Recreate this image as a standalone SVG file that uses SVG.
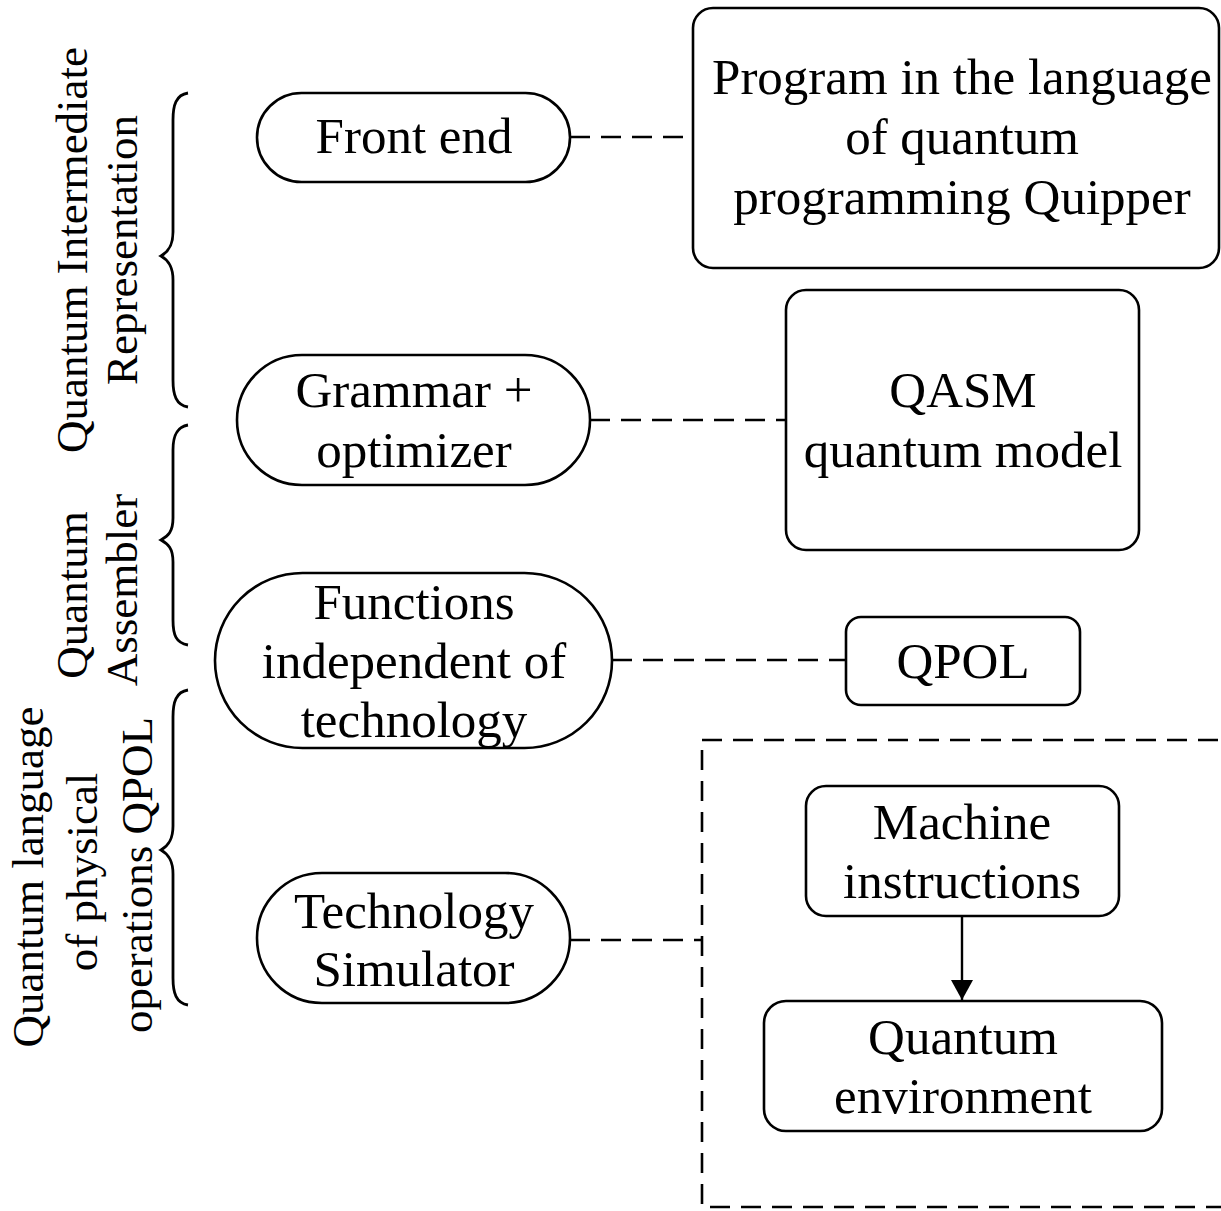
<svg xmlns="http://www.w3.org/2000/svg" width="1221" height="1211" viewBox="0 0 1221 1211">
<style>
.n{fill:#fff;stroke:#000;stroke-width:2.6}
.t{font-family:"Liberation Serif","Times New Roman",serif;font-size:51px;text-anchor:middle;fill:#000}
.r{font-family:"Liberation Serif","Times New Roman",serif;font-size:45px;text-anchor:middle;fill:#000}
.d{fill:none;stroke:#000;stroke-width:2.6;stroke-dasharray:20 11}
.b{fill:none;stroke:#000;stroke-width:2.8}
</style>
<defs>
<marker id="ah" markerWidth="20" markerHeight="22" refX="20" refY="11" orient="auto" markerUnits="userSpaceOnUse">
<path d="M0,0 L20,11 L0,22 Z" fill="#000"/>
</marker>
</defs>
<rect width="1221" height="1211" fill="#fff"/>
<g id="labels">
<g id="label-qir">
<text class="r" transform="translate(87,250) rotate(-90)">Quantum Intermediate</text>
<text class="r" transform="translate(137,250) rotate(-90)">Representation</text>
<path class="b" d="M188,93 C176,95 173,105 173,120 L173,232 C173,246 168,252 161,256 C168,260 173,266 173,280 L173,380 C173,395 176,405 188,407"/>
</g>
<g id="label-qa">
<text class="r" transform="translate(87,595) rotate(-90)">Quantum</text>
<text class="r" transform="translate(137,590) rotate(-90)">Assembler</text>
<path class="b" d="M188,425 C176,427 173,437 173,450 L173,518 C173,532 168,536 161,540 C168,544 173,548 173,562 L173,620 C173,635 176,643 188,645"/>
</g>
<g id="label-qpol">
<text class="r" transform="translate(43,877) rotate(-90)">Quantum language</text>
<text class="r" transform="translate(97,872) rotate(-90)">of physical</text>
<text class="r" transform="translate(152,875) rotate(-90)">operations QPOL</text>
<path class="b" d="M188,690 C176,692 173,702 173,717 L173,826 C173,840 168,846 161,850 C168,854 173,860 173,874 L173,978 C173,993 176,1003 188,1005"/>
</g>
</g>
<g id="connectors">
<line class="d" x1="570" y1="137" x2="693" y2="137"/>
<line class="d" x1="590" y1="420" x2="786" y2="420"/>
<line class="d" x1="612" y1="660" x2="846" y2="660"/>
<line class="d" x1="570" y1="940" x2="702" y2="940"/>
<line x1="962" y1="916" x2="962" y2="1000" stroke="#000" stroke-width="2.4" marker-end="url(#ah)"/>
</g>
<g id="group-box">
<rect class="d" x="702" y="740" width="540" height="467"/>
</g>
<g id="front-end">
<rect class="n" x="257" y="93" width="313" height="89" rx="44.5"/>
<text class="t" x="414" y="153">Front end</text>
</g>
<g id="program">
<rect class="n" x="693" y="8" width="526" height="260" rx="20"/>
<text class="t" x="962" y="94">Program in the language</text>
<text class="t" x="962" y="154">of quantum</text>
<text class="t" x="962" y="214">programming Quipper</text>
</g>
<g id="grammar">
<rect class="n" x="237" y="355" width="353" height="130" rx="65"/>
<text class="t" x="414" y="407">Grammar +</text>
<text class="t" x="414" y="467">optimizer</text>
</g>
<g id="qasm">
<rect class="n" x="786" y="290" width="353" height="260" rx="20"/>
<text class="t" x="963" y="407">QASM</text>
<text class="t" x="963" y="467">quantum model</text>
</g>
<g id="functions">
<rect class="n" x="215" y="573" width="397" height="175" rx="87.5"/>
<text class="t" x="414" y="619">Functions</text>
<text class="t" x="414" y="678">independent of</text>
<text class="t" x="414" y="737">technology</text>
</g>
<g id="qpol">
<rect class="n" x="846" y="617" width="234" height="88" rx="15"/>
<text class="t" x="963" y="678">QPOL</text>
</g>
<g id="simulator">
<rect class="n" x="257" y="873" width="313" height="130" rx="65"/>
<text class="t" x="414" y="928">Technology</text>
<text class="t" x="414" y="986">Simulator</text>
</g>
<g id="machine">
<rect class="n" x="806" y="786" width="313" height="130" rx="20"/>
<text class="t" x="962" y="839">Machine</text>
<text class="t" x="962" y="898">instructions</text>
</g>
<g id="environment">
<rect class="n" x="764" y="1001" width="398" height="130" rx="22"/>
<text class="t" x="963" y="1054">Quantum</text>
<text class="t" x="963" y="1113">environment</text>
</g>
</svg>
